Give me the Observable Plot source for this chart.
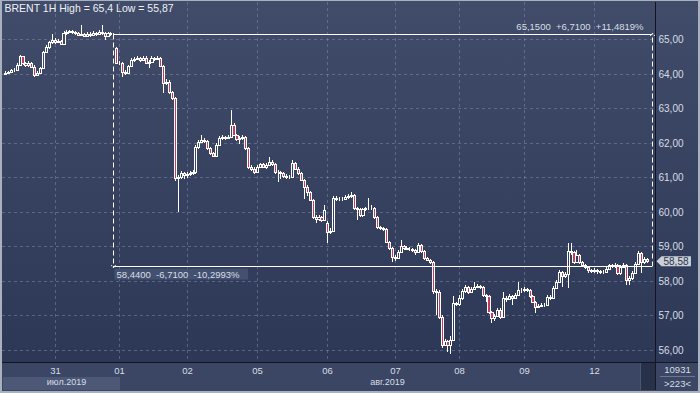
<!DOCTYPE html>
<html><head><meta charset="utf-8">
<script src="https://cdn.jsdelivr.net/npm/d3@7"></script>
<script src="https://cdn.jsdelivr.net/npm/@observablehq/plot@0.6"></script>
<style>
html,body{margin:0;padding:0;background:#2c3756;}
#wrap{position:relative;width:700px;height:393px;overflow:hidden;font-family:"Liberation Sans",Arial,sans-serif;
 background:linear-gradient(to bottom,#404c69 0px,#2d3857 362px,#2d3857 393px);}
#panel{position:absolute;left:0;top:362px;width:700px;height:31px;background:#3a4663;border-top:1px solid #131927;}
#julbox{position:absolute;left:3px;top:377px;width:117px;height:13px;background:#4c5876;}
#strip{position:absolute;left:640px;top:363px;width:15px;height:27px;background:#27314a;border-left:1px solid #4a5674;}
#rcell{position:absolute;left:655px;top:363px;width:43px;height:27px;border-left:1px solid #131927;color:#d8dde6;font-size:9.5px;text-align:center;}
#rcell .a{height:13px;line-height:14px;border-bottom:1px solid #6a7590;margin:0 4px;}
#rcell .b{height:13px;line-height:13px;}
#border{position:absolute;left:0;top:0;width:700px;height:393px;box-sizing:border-box;border:2px solid #a9b1bf;border-top-width:1px;pointer-events:none;}
#chart{position:absolute;left:0;top:0;}
</style></head>
<body>
<div id="wrap">
  <div id="panel"></div>
  <div id="julbox"></div>
  <div id="strip"></div>
  <div id="rcell"><div class="a" id="infoA"></div><div class="b" id="infoB"></div></div>
  <div id="chart"></div>
  <div id="border"></div>
</div>
<script>
const title = "BRENT 1H High = 65,4 Low = 55,87";
const closes = [
64.02,64.05,64.10,64.10,64.25,64.50,64.30,64.25,64.30,64.20,
63.96,64.02,64.15,64.62,64.77,64.91,64.97,64.92,64.95,64.86,
65.17,65.20,65.23,65.20,65.17,65.12,65.14,65.10,65.14,65.12,
65.17,65.14,65.20,65.17,65.10,65.17,65.14,65.15,64.31,64.31,
64.05,64.02,64.22,64.39,64.42,64.45,64.39,64.45,64.31,64.33,
64.45,64.42,64.45,64.22,63.73,63.76,63.47,63.29,60.98,61.00,
61.12,61.05,61.08,61.12,61.15,61.87,62.02,62.08,62.05,61.85,
61.70,61.62,61.93,62.13,62.16,62.14,62.16,62.51,62.22,62.10,
62.14,62.16,61.85,61.30,61.24,61.15,61.30,61.38,61.30,61.35,
61.45,61.38,61.15,61.14,61.12,61.03,61.00,61.01,61.40,61.25,
61.12,60.92,60.72,60.57,60.34,59.85,59.80,59.85,59.76,60.05,
59.42,59.45,60.40,60.38,60.36,60.38,60.42,60.45,60.48,60.10,
60.07,59.90,60.08,60.10,60.11,60.12,59.85,59.56,59.53,59.50,
59.13,58.95,58.70,58.65,58.84,59.02,58.95,58.93,58.92,58.89,
58.82,59.03,58.85,58.65,58.61,58.55,57.70,57.68,56.96,56.15,
56.25,56.15,56.30,57.36,57.33,57.50,57.70,57.82,57.68,57.76,
57.82,57.84,57.82,57.59,57.55,57.10,56.93,56.98,57.16,56.95,
57.50,57.48,57.55,57.50,57.60,57.72,57.74,57.76,57.74,57.55,
57.40,57.25,57.28,57.30,57.30,57.53,57.50,57.80,57.97,58.26,
58.13,58.20,58.85,58.82,58.55,58.75,58.55,58.45,58.40,58.30,
58.28,58.32,58.28,58.26,58.25,58.35,58.45,58.42,58.46,58.22,
58.40,58.46,58.03,58.08,58.23,58.50,58.80,58.55,58.62,58.58];
const highs = [
64.06,64.08,64.14,64.16,64.30,64.55,64.52,64.34,64.35,64.33,
64.24,64.06,64.20,64.66,64.82,64.95,65.14,65.02,65.00,64.98,
65.22,65.25,65.27,65.26,65.24,65.20,65.40,65.18,65.19,65.20,
65.22,65.21,65.25,65.40,65.20,65.21,65.20,65.18,64.76,64.36,
64.34,64.10,64.26,64.44,64.48,64.52,64.49,64.50,64.50,64.38,
64.50,64.48,64.50,64.47,64.24,63.84,63.80,63.50,63.32,61.06,
61.18,61.16,61.14,61.18,61.20,61.92,62.08,62.22,62.12,62.08,
61.88,61.74,61.98,62.18,62.22,62.20,62.22,62.93,62.56,62.26,
62.20,62.22,62.18,61.88,61.34,61.28,61.35,61.42,61.42,61.40,
61.59,61.50,61.42,61.20,61.18,61.16,61.08,61.06,61.50,61.44,
61.28,61.15,60.95,60.76,60.60,60.38,59.90,59.90,59.88,60.20,
59.72,59.52,60.46,60.45,60.42,60.44,60.48,60.52,60.57,60.50,
60.14,60.10,60.12,60.15,60.40,60.18,60.15,59.88,59.60,59.57,
59.53,59.16,58.98,58.74,58.88,59.18,59.05,59.00,58.98,58.96,
58.92,59.08,59.06,58.88,58.68,58.64,58.58,57.76,57.72,57.00,
56.32,56.30,56.40,57.55,57.40,57.60,57.76,57.88,57.85,57.82,
57.97,57.90,57.89,57.85,57.63,57.58,57.14,57.04,57.22,57.20,
57.68,57.56,57.62,57.60,57.66,57.97,57.80,57.82,57.80,57.77,
57.58,57.43,57.33,57.35,57.36,57.58,57.58,57.85,58.02,58.30,
58.29,58.26,59.10,59.10,58.86,58.89,58.78,58.58,58.48,58.43,
58.34,58.37,58.35,58.32,58.31,58.40,58.50,58.49,58.52,58.49,
58.45,58.52,58.49,58.14,58.28,58.55,58.86,58.83,58.70,58.66];
const lows = [
63.96,64.00,64.03,64.04,64.08,64.22,64.26,64.18,64.20,64.15,
63.90,63.92,64.00,64.12,64.58,64.72,64.86,64.86,64.88,64.82,
64.84,65.12,65.16,65.15,65.12,65.08,65.08,65.05,65.06,65.07,
65.09,65.10,65.11,65.12,64.97,65.06,65.10,65.10,64.28,64.25,
63.90,63.96,63.98,64.18,64.34,64.38,64.34,64.35,64.27,64.16,
64.29,64.36,64.38,64.18,63.44,63.66,63.42,63.22,60.90,60.00,
60.94,60.96,60.98,61.02,61.06,61.10,61.82,61.98,61.98,61.80,
61.64,61.58,61.58,61.90,62.08,62.08,62.10,62.12,62.18,62.04,
61.95,62.08,61.80,61.24,61.18,61.10,61.12,61.26,61.26,61.24,
61.32,61.33,61.10,60.86,60.95,60.98,60.94,60.95,60.98,61.20,
61.06,60.88,60.37,60.45,60.30,59.80,59.68,59.74,59.70,59.72,
59.10,59.36,59.40,60.32,60.30,60.32,60.34,60.38,60.40,60.05,
59.76,59.85,59.86,60.02,60.04,60.05,59.80,59.50,59.47,59.44,
59.08,58.90,58.55,58.58,58.62,58.80,58.90,58.88,58.86,58.84,
58.76,58.80,58.80,58.60,58.56,58.50,57.62,57.00,56.90,56.06,
56.10,55.94,55.87,56.25,57.26,57.28,57.45,57.66,57.62,57.64,
57.72,57.78,57.76,57.54,57.38,57.05,56.78,56.84,56.94,56.90,
56.92,57.40,57.44,57.30,57.46,57.56,57.66,57.68,57.68,57.50,
57.35,57.07,57.20,57.24,57.25,57.27,57.44,57.46,57.76,57.94,
57.82,58.08,57.80,58.76,58.50,58.52,58.50,58.40,58.34,58.24,
58.22,58.22,58.20,58.20,58.19,58.22,58.30,58.38,58.38,58.18,
58.18,58.36,57.88,57.88,58.02,58.20,58.46,58.23,58.50,58.52];
const firstOpen = 63.98;
const gapOpens = {38: 64.74, 110: 59.68};

const dayStarts = [17, 39, 62, 86, 110, 133, 155, 177, 201];
const dayLabels = ["31", "01", "02", "05", "06", "07", "08", "09", "12"];
const monthLabels = ["июл.2019", "авг.2019"];
const monthPos = [21, 130.5];
const priceTicks = [56, 57, 58, 59, 60, 61, 62, 63, 64, 65];

const measure = {startIdx: 37, endIdx: 220.8, startPrice: 65.15, endPrice: 58.44};
const measureTop = "65,1500  +6,7100  +11,4819%";
const measureBottom = "58,4400  -6,7100  -10,2993%";
const lastPrice = 58.58;
const infoTop = "10931";
const infoBottom = ">223<";

const bars = closes.map((c, i) => ({
  i,
  open: gapOpens[i] !== undefined ? gapOpens[i] : (i === 0 ? firstOpen : closes[i - 1]),
  close: c, high: highs[i], low: lows[i]
}));
const up = bars.filter(d => d.close >= d.open);
const down = bars.filter(d => d.close < d.open);
const fmt2 = d => d.toFixed(2).replace(".", ",");
const gridStyle = {stroke: "#8a97b6", strokeOpacity: 0.45, strokeDasharray: "3,3", strokeWidth: 1};
const txt = "#d8dde6";

const chart = Plot.plot({
  width: 700, height: 393,
  marginLeft: 2, marginRight: 45, marginTop: 2, marginBottom: 31,
  style: {background: "transparent", color: txt, fontFamily: "'Liberation Sans', Arial, sans-serif", fontSize: "10px", overflow: "visible"},
  x: {domain: [-1, 221.8], round: true, axis: null},
  y: {domain: [55.65, 66.07], round: true, axis: null},
  marks: [
    Plot.gridY(priceTicks, gridStyle),
    Plot.gridX(dayStarts, gridStyle),
    Plot.frame({anchor: "right", stroke: "#10151f"}),
    Plot.frame({anchor: "bottom", stroke: "#10151f"}),
    Plot.axisY(priceTicks, {anchor: "right", tickSize: 0, tickPadding: 3, tickFormat: fmt2, fill: txt, fontSize: 10}),
    Plot.axisX(dayStarts, {anchor: "bottom", tickSize: 0, tickPadding: 5, tickFormat: d => dayLabels[dayStarts.indexOf(d)], fill: txt, fontSize: 9.5}),
    Plot.text(monthLabels, {x: (d, i) => monthPos[i], frameAnchor: "bottom", dy: 22, text: d => d, fill: txt, fontSize: 9}),
    Plot.ruleX(bars, {x: "i", y1: "low", y2: "high", stroke: "#ffffff", strokeWidth: 1, shapeRendering: "crispEdges"}),
    Plot.rect(up, {x1: d => d.i - 0.36, x2: d => d.i + 0.36, y1: "open", y2: "close", fill: "url(#bgGrad)", stroke: "#ffffff", strokeWidth: 1, shapeRendering: "crispEdges"}),
    Plot.rect(down, {x1: d => d.i - 0.36, x2: d => d.i + 0.36, y1: "open", y2: "close", fill: "#c23a5e", stroke: "#ffffff", strokeWidth: 1, shapeRendering: "crispEdges"}),
    Plot.ruleY([measure], {y: "startPrice", x1: "startIdx", x2: "endIdx", stroke: "#ffffff", strokeWidth: 1}),
    Plot.ruleY([measure], {y: "endPrice", x1: "startIdx", x2: "endIdx", stroke: "#ffffff", strokeWidth: 1}),
    Plot.link([measure], {x1: "startIdx", x2: "startIdx", y1: "startPrice", y2: "endPrice", stroke: "#ffffff", strokeDasharray: "5,3", markerEnd: "arrow"}),
    Plot.link([measure], {x1: "endIdx", x2: "endIdx", y1: "endPrice", y2: "startPrice", stroke: "#ffffff", strokeDasharray: "5,3", markerEnd: "arrow"}),
    Plot.text([measure], {x: "endIdx", y: "startPrice", text: () => measureTop, textAnchor: "end", dx: -9, dy: -8, fill: txt, fontSize: 9.5}),
    Plot.text([measure], {x: "startIdx", y: "endPrice", text: () => measureBottom, textAnchor: "start", dx: 3, dy: 8, fill: txt, fontSize: 9.5}),
    Plot.text([title], {frameAnchor: "top-left", dx: 2, dy: 2, lineAnchor: "top", textAnchor: "start", text: d => d, fill: "#eef1f6", fontSize: 10.5}),
    Plot.text([lastPrice], {y: d => d, frameAnchor: "right", dx: 8, textAnchor: "start", text: fmt2, fill: "#2e3546", fontSize: 10})
  ]
});
document.getElementById("chart").appendChild(chart);
document.getElementById("infoA").textContent = infoTop;
document.getElementById("infoB").textContent = infoBottom;

const svg = d3.select(chart);
const yr = chart.scale("y").range;
const defs = svg.insert("defs", ":first-child");
const grad = defs.append("linearGradient").attr("id", "bgGrad").attr("gradientUnits", "userSpaceOnUse")
  .attr("x1", 0).attr("x2", 0).attr("y1", Math.min(...yr) - 2).attr("y2", Math.max(...yr));
grad.append("stop").attr("offset", 0).attr("stop-color", "#404c69");
grad.append("stop").attr("offset", 1).attr("stop-color", "#2d3857");

function findText(str) {
  let found = null;
  svg.selectAll("text").each(function () { if (!found && this.textContent === str) found = this; });
  return found;
}
function absBox(node) {
  const b = node.getBBox();
  const m = node.getCTM();
  return {x: b.x * m.a + m.e, y: b.y * m.d + m.f, width: b.width * m.a, height: b.height * m.d};
}
function insertBefore(node, tag) {
  const el = document.createElementNS("http://www.w3.org/2000/svg", tag);
  const g = node.closest("g") || node.parentNode;
  g.parentNode.insertBefore(el, g);
  return d3.select(el);
}
const mbNode = findText(measureBottom) || findText(measureBottom.replace(/  /g, " "));
if (mbNode) {
  const b = absBox(mbNode);
  insertBefore(mbNode, "rect")
    .attr("x", b.x - 2).attr("y", b.y).attr("width", b.width + 10).attr("height", b.height)
    .attr("fill", "#43506f");
}
const lpNode = findText(fmt2(lastPrice));
if (lpNode) {
  const b = absBox(lpNode);
  const l = b.x - 2, r = b.x + b.width + 2, t = b.y + 0.5, btm = b.y + b.height - 0.5, cy = (t + btm) / 2;
  insertBefore(lpNode, "polygon")
    .attr("points", `${l - 5},${cy} ${l},${t} ${r},${t} ${r},${btm} ${l},${btm}`)
    .attr("fill", "#c9d0da");
}
</script>
</body></html>
